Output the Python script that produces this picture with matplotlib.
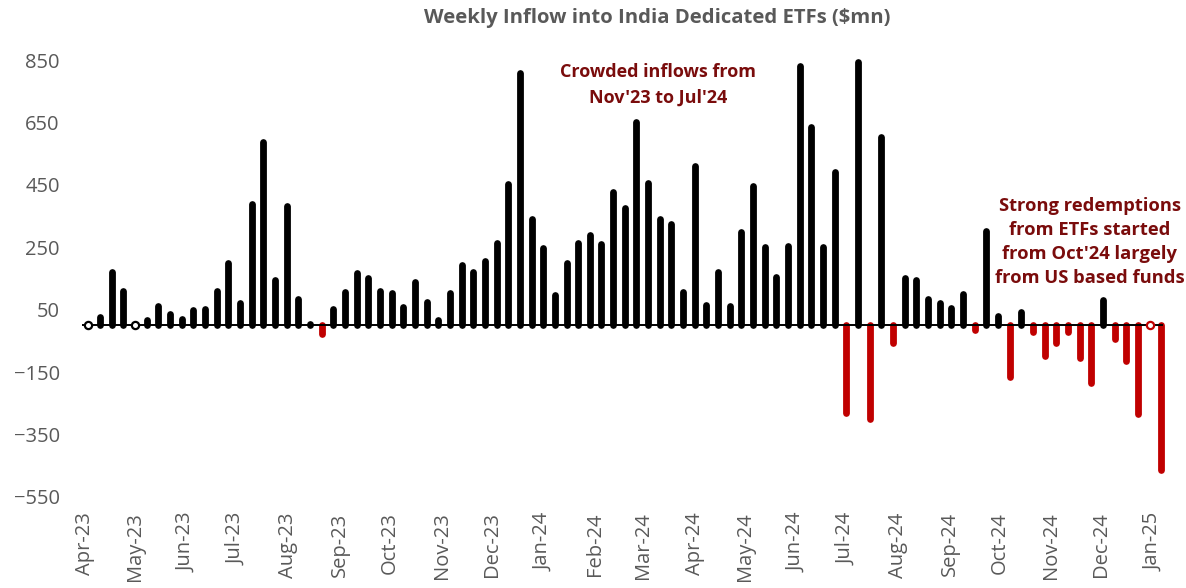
import numpy as np
import pandas as pd
import matplotlib
matplotlib.use("Agg")
import matplotlib.pyplot as plt
import matplotlib.dates as mdates

# weekly flows, $mn
flows = [
    0, 28, 170, 110, 0, 17, 62, 36, 21, 49, 52, 109, 199, 73, 388, 588,
    145, 382, 84, 4, -29, 52, 106, 167, 151, 110, 105, 60, 140, 74, 17, 105,
    192, 171, 206, 265, 452, 809, 340, 248, 97, 201, 265, 288, 260, 427, 375, 651,
    457, 340, 325, 108, 511, 65, 171, 63, 300, 446, 252, 156, 254, 830, 636, 250,
    492, -282, 845, -300, 602, -56, 153, 145, 84, 71, 54, 100, -16, 302, 31, -165,
    43, -22, -99, -56, -22, -106, -186, 81, -45, -115, -283, -1, -465,
]
weeks = pd.date_range("2023-04-03", periods=len(flows), freq="7D")
month_ticks = pd.date_range("2023-04-01", "2025-01-01", freq="MS")
y_ticks = [850, 650, 450, 250, 50, -150, -350, -550]

title = "Weekly Inflow into India Dedicated ETFs ($mn)"
note_inflow = "Crowded inflows from\nNov'23 to Jul'24"
note_outflow = "Strong redemptions\nfrom ETFs started\nfrom Oct'24 largely\nfrom US based funds"

POS, NEG = "#000000", "#C00000"
NOTE = "#7A0C0C"
GREY = "#595959"

W, H = 1186, 588
fig = plt.figure(figsize=(W / 100, H / 100), dpi=100)
ax = fig.add_axes([75 / W, (H - 497) / H, 1100 / W, 437 / H])

x = mdates.date2num(weeks)
vals = np.array(flows, dtype=float)
colors = [POS if v >= 0 else NEG for v in vals]

big = np.abs(vals) >= 2
ax.vlines(x[big], 0, vals[big], colors=[c for c, b in zip(colors, big) if b],
          linewidth=4.9, capstyle="round", clip_on=False, zorder=2)
for xi, v, c in zip(x[~big], vals[~big], np.array(colors)[~big]):
    ax.plot(xi, 0, marker="o", ms=5.2, mfc="white", mec=c, mew=1.6,
            clip_on=False, zorder=4)

ax.hlines(0, x[0] - 4, x[-1] + 1, color="black", linewidth=1.4, zorder=3)

d0 = mdates.date2num(pd.Timestamp("2023-04-01"))
px_day = 1.6661
ax.set_xlim(d0 - 10 / px_day, d0 + 1090 / px_day)
ax.set_ylim(-550, 850)

ax.set_xticks(mdates.date2num(month_ticks))
ax.xaxis.set_major_formatter(mdates.DateFormatter("%b-%y"))
ax.set_yticks(y_ticks)
ax.tick_params(axis="x", length=0, pad=11, labelsize=14.5, labelcolor=GREY,
               labelrotation=90)
ax.tick_params(axis="y", length=0, pad=11, labelsize=14.5, labelcolor=GREY)
for lab in ax.get_xticklabels() + ax.get_yticklabels():
    lab.set_fontfamily("Open Sans")
for lab in ax.get_xticklabels():
    lab.set_va("top")
    lab.set_ha("center")

for s in ax.spines.values():
    s.set_visible(False)

fig.text(657 / W, 1 - 18 / H, title, ha="center", va="center",
         fontsize=14.6, fontweight="bold", color=GREY, family="Open Sans")
fig.text(658 / W, 1 - 85 / H, note_inflow, ha="center", va="center",
         fontsize=13, fontweight="bold", color=NOTE, family="Open Sans",
         linespacing=1.55)
fig.text(1090 / W, 1 - 242 / H, note_outflow, ha="center", va="center",
         fontsize=13.2, fontweight="bold", color=NOTE, family="Open Sans",
         linespacing=1.45)

fig.savefig("out.png", dpi=100)
